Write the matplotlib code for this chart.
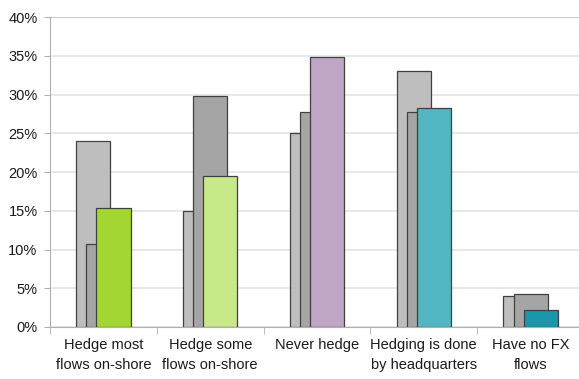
import numpy as np
import matplotlib.pyplot as plt

plt.rcParams['font.family'] = ['Liberation Sans', 'DejaVu Sans']

categories = ['Hedge most\nflows on-shore', 'Hedge some\nflows on-shore', 'Never hedge',
              'Hedging is done\nby headquarters', 'Have no FX\nflows']
back = [24.0, 15.0, 25.0, 33.0, 4.0]
middle = [10.7, 29.8, 27.8, 27.7, 4.3]
front = [15.3, 19.5, 34.9, 28.3, 2.2]
front_colors = ['#A2D632', '#C8E98A', '#BEA6C4', '#52B6C3', '#1996AA']

fig = plt.figure(figsize=(5.79, 3.79), dpi=100)
ax = fig.add_axes([50 / 579, 52 / 379, 534 / 579, 310 / 379])

x = np.arange(len(categories))
w = 0.32
off = 0.095
edge = '#404040'
ax.bar(x - off, back, w, color='#BEBEBE', edgecolor=edge, linewidth=0.9, zorder=2)
ax.bar(x, middle, w, color='#A5A5A5', edgecolor=edge, linewidth=0.9, zorder=3)
ax.bar(x + off, front, w, color=front_colors, edgecolor=edge, linewidth=0.9, zorder=4)

ax.set_xlim(-0.5, len(categories) - 0.5)
ax.set_ylim(0, 40)
ax.set_yticks(range(0, 41, 5))
ax.set_yticklabels([f'{v}%' for v in range(0, 41, 5)], fontsize=10.5, color='#1a1a1a')
ax.yaxis.grid(True, color='#E3E3E3', linewidth=1.2, zorder=0)
ax.set_axisbelow(True)

ax.set_xticks(x)
ax.set_xticklabels(categories, fontsize=10.5, color='#1a1a1a', linespacing=1.5)
ax.set_xticks(np.arange(len(categories) + 1) - 0.5, minor=True)
ax.tick_params(axis='x', which='major', length=0, pad=8)
ax.tick_params(axis='x', which='minor', length=5, color='#B0B0B0')
ax.tick_params(axis='y', length=4, color='#B0B0B0', pad=5)

for s in ['top', 'right']:
    ax.spines[s].set_visible(False)
ax.spines['left'].set_color('#B0B0B0')
ax.spines['bottom'].set_color('#B0B0B0')
ax.axhline(40, color='#C8C8C8', linewidth=1.5, zorder=1)

fig.savefig('out.png', dpi=100)
